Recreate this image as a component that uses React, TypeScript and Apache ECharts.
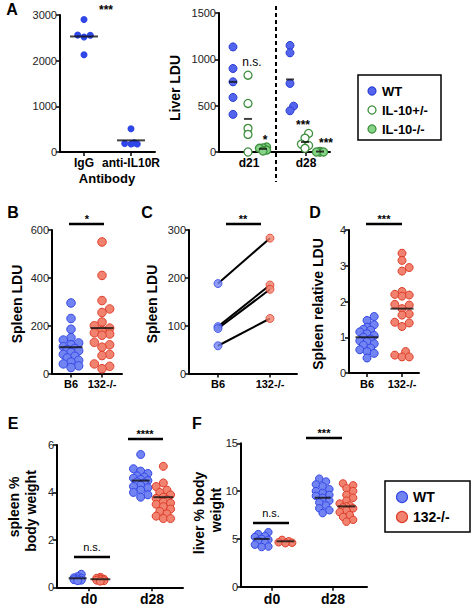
import React, { useEffect, useRef } from 'react';
import * as echarts from 'echarts';

// ---------- data ----------
const A1_CATS = ['IgG', 'anti-IL10R'];
const A1_IGG = [2900, 2555, 2520, 2560, 2130];
const A1_ANTI = [510, 200, 175, 175, 185];
const A1_MEANS = [2530, 255];

const A2_DAYS = ['d21', 'd28'];
const A2_WT_D21 = [1134, 901, 757, 589, 406];
const A2_WT_D28 = [1150, 1070, 740, 495, 445];
const A2_HET_D21 = [829, 524, 255, 190, 0];
const A2_HET_D28 = [200, 150, 85, 70, 40];
const A2_KO_D21 = [55, 45, 40, 20, 10];
const A2_KO_D28 = [6, 3, 0, 0, 0];
const A2_WT_MEANS = [757, 783];
const A2_HET_MEANS = [357, 108];
const A2_KO_MEANS = [34, 5];

const B_CATS = ['B6', '132-/-'];
const B_B6 = [295, 230, 185, 150, 140, 128, 120, 112, 105, 100, 95, 88, 80, 72, 65, 55, 48, 40, 32, 25];
const B_KO = [550, 410, 305, 270, 255, 215, 200, 190, 180, 170, 165, 160, 130, 120, 110, 80, 75, 40, 30, 20];
const B_MEANS = [110, 190];

const C_B6 = [188, 98, 94, 58];
const C_KO = [283, 185, 176, 115];

const D_B6 = [1.58, 1.47, 1.35, 1.28, 1.22, 1.2, 1.15, 1.1, 1.05, 1.0, 0.95, 0.9, 0.88, 0.82, 0.78, 0.7, 0.65, 0.6, 0.55, 0.42];
const D_KO = [3.35, 3.15, 2.95, 2.85, 2.28, 2.2, 2.18, 2.15, 1.92, 1.9, 1.8, 1.65, 1.62, 1.42, 1.4, 1.3, 0.6, 0.5, 0.45, 0.45];
const D_MEANS = [1.0, 1.8];

const EF_DAYS = ['d0', 'd28'];
const E_WT_D0 = [0.55, 0.45, 0.4, 0.38, 0.35, 0.32, 0.3, 0.28];
const E_KO_D0 = [0.42, 0.38, 0.36, 0.34, 0.32, 0.3, 0.28, 0.26];
const E_WT_D28 = [5.6, 5.0, 4.9, 4.8, 4.7, 4.65, 4.6, 4.55, 4.5, 4.45, 4.4, 4.3, 4.25, 4.2, 4.1, 4.0, 3.9, 3.8];
const E_KO_D28 = [5.1, 4.4, 4.25, 4.1, 4.0, 3.9, 3.8, 3.75, 3.7, 3.6, 3.55, 3.5, 3.4, 3.3, 3.2, 3.1, 3.0, 2.9, 2.9];
const E_WT_MEANS = [0.38, 4.5];
const E_KO_MEANS = [0.34, 3.8];

const F_WT_D0 = [5.7, 5.5, 5.3, 5.2, 5.0, 4.9, 4.8, 4.6, 4.4, 4.2, 4.15];
const F_KO_D0 = [4.9, 4.75, 4.65, 4.6, 4.55];
const F_WT_D28 = [11.3, 11.0, 10.7, 10.5, 10.2, 10.0, 9.8, 9.6, 9.5, 9.3, 9.0, 8.8, 8.5, 8.2, 8.0, 7.7];
const F_KO_D28 = [10.8, 10.6, 10.3, 10.0, 9.6, 9.3, 9.0, 8.7, 8.5, 8.4, 8.3, 8.2, 8.0, 7.8, 7.5, 7.3, 7.0, 6.8];
const F_WT_MEANS = [5.0, 9.3];
const F_KO_MEANS = [4.75, 8.4];

// ---------- styling ----------
const FONT = 'Liberation Sans, Arial, Helvetica, sans-serif';
const BLUE_SOLID = '#2f47e8';
const WT_FILL = '#5365ec';
const WT_STROKE = '#2b3dd6';
const BLUE_FILL = '#7283f2';
const BLUE_STROKE = '#3549e6';
const RED_FILL = '#f1826f';
const RED_STROKE = '#de3f2b';
const GREEN_STROKE = '#3f8f3f';
const GREEN_FILL = '#86d486';

type G = { left: number; top: number; width: number; height: number; c0: number; c1: number; ymax: number; yint: number; cats: string[]; catFont: number };

const GRIDS: G[] = [
  { left: 60, top: 15, width: 95, height: 137, c0: 84, c1: 131, ymax: 3000, yint: 1000, cats: A1_CATS, catFont: 12 },
  { left: 219, top: 13, width: 111, height: 139, c0: 249, c1: 306, ymax: 1500, yint: 500, cats: A2_DAYS, catFont: 12 },
  { left: 52, top: 230, width: 70, height: 143.5, c0: 71, c1: 102, ymax: 600, yint: 200, cats: B_CATS, catFont: 11 },
  { left: 189, top: 230, width: 108, height: 143.5, c0: 218, c1: 270, ymax: 300, yint: 100, cats: B_CATS, catFont: 11 },
  { left: 349, top: 230, width: 70, height: 143, c0: 367, c1: 402, ymax: 4, yint: 1, cats: B_CATS, catFont: 11 },
  { left: 57, top: 445, width: 126, height: 142.3, c0: 89, c1: 152, ymax: 6, yint: 2, cats: EF_DAYS, catFont: 14 },
  { left: 241, top: 443.3, width: 126, height: 143.4, c0: 272, c1: 333, ymax: 15, yint: 5, cats: EF_DAYS, catFont: 14 },
];

// compact beeswarm layout with a maximum half-width: returns pixel offsets
function swarm(values: number[], pxY: number, diam: number, step: number, maxHalf: number): number[] {
  const order = values.map((_, i) => i).sort((a, b) => values[a] - values[b]);
  const placed: { x: number; y: number }[] = [];
  const out = new Array(values.length).fill(0);
  const cands: number[] = [0];
  for (let m = 1; m * step <= maxHalf + 1e-6; m++) cands.push(m * step, -m * step);
  for (const i of order) {
    const y = values[i] * pxY;
    let best = 0;
    let bestD = -1;
    for (const off of cands) {
      const d = placed.length ? Math.min(...placed.map((p) => Math.hypot(p.x - off, p.y - y))) : Infinity;
      if (d >= diam) { best = off; bestD = d; break; }
      if (d > bestD + 0.5) { bestD = d; best = off; }
    }
    out[i] = best;
    placed.push({ x: best, y });
  }
  return out;
}

function dots(gi: number, center: number, values: number[], size: number, fill: string, stroke: string, maxHalf: number, bw = 1, z = 3) {
  const g = GRIDS[gi];
  const pxY = g.height / g.ymax;
  const offs = swarm(values, pxY, size * 0.75, size * 0.45, maxHalf);
  const unit = g.c1 - g.c0;
  return {
    type: 'scatter', xAxisIndex: gi, yAxisIndex: gi, symbol: 'circle', symbolSize: size, clip: false, silent: true, z,
    itemStyle: { color: fill, borderColor: stroke, borderWidth: bw, opacity: 1 },
    data: values.map((v, i) => [center + offs[i] / unit, v]),
  };
}

function means(gi: number, centers: number[], vals: number[], w: number) {
  return {
    type: 'scatter', xAxisIndex: gi, yAxisIndex: gi, symbol: 'rect', symbolSize: [w, 2], clip: false, silent: true, z: 5,
    itemStyle: { color: '#111' },
    data: vals.map((v, i) => [centers[i], v]),
  };
}

function buildOption() {
  const grid = GRIDS.map((g) => ({ left: g.left, top: g.top, width: g.width, height: g.height, containLabel: false, outerBoundsMode: 'none' }));
  const xAxis = GRIDS.map((g, i) => {
    const u = g.c1 - g.c0;
    return {
      type: 'value', gridIndex: i, min: -(g.c0 - g.left) / u, max: (g.left + g.width - g.c0) / u,
      axisLine: { show: true, onZero: false, lineStyle: { color: '#000', width: 2 } },
      axisTick: { show: true, customValues: [0, 1], length: 4, lineStyle: { color: '#000', width: 1.5 } },
      axisLabel: { show: true, customValues: [0, 1], formatter: (v: number) => g.cats[Math.round(v)] ?? '', fontSize: g.catFont, fontWeight: 'bold', color: '#000', fontFamily: FONT, margin: 5 },
      splitLine: { show: false },
    };
  });
  const yAxis = GRIDS.map((g, i) => ({
    type: 'value', gridIndex: i, min: 0, max: g.ymax, interval: g.yint,
    axisLine: { show: true, onZero: false, lineStyle: { color: '#000', width: 2 } },
    axisTick: { show: true, length: 4, lineStyle: { color: '#000', width: 1.5 } },
    axisLabel: { fontSize: 11, color: '#222', fontFamily: FONT, margin: 3, formatter: (v: number) => String(v) },
    splitLine: { show: false },
  }));

  const u2 = GRIDS[1].c1 - GRIDS[1].c0;
  const oWT = -16 / u2, oHET = -1 / u2, oKO = 14 / u2;
  const oE = 0.18;
  const oF1 = -0.17, oF2 = 0.22;

  const series: any[] = [
    // A left
    dots(0, 0, A1_IGG, 7, BLUE_SOLID, BLUE_SOLID, 10, 0),
    dots(0, 1, A1_ANTI, 7, BLUE_SOLID, BLUE_SOLID, 12, 0),
    means(0, [0, 1], A1_MEANS, 28),
    // A right
    dots(1, 0 + oWT, A2_WT_D21, 8, WT_FILL, WT_STROKE, 5),
    dots(1, 1 + oWT, A2_WT_D28, 8, WT_FILL, WT_STROKE, 5),
    dots(1, 0 + oHET, A2_HET_D21, 8, '#ffffff', GREEN_STROKE, 6, 1.3),
    dots(1, 1 + oHET, A2_HET_D28, 8, '#ffffff', GREEN_STROKE, 7, 1.3),
    dots(1, 0 + oKO, A2_KO_D21, 8, GREEN_FILL, GREEN_STROKE, 7, 1.3),
    dots(1, 1 + oKO, A2_KO_D28, 8, GREEN_FILL, GREEN_STROKE, 7, 1.3),
    means(1, [0 + oWT, 1 + oWT], A2_WT_MEANS, 8),
    means(1, [0 + oHET, 1 + oHET], A2_HET_MEANS, 8),
    means(1, [0 + oKO, 1 + oKO], A2_KO_MEANS, 8),
    // B
    dots(2, 0, B_B6, 8.5, BLUE_FILL, BLUE_STROKE, 10),
    dots(2, 1, B_KO, 8.5, RED_FILL, RED_STROKE, 11),
    means(2, [0, 1], B_MEANS, 23),
    // C lines
    ...C_B6.map((v, i) => ({
      type: 'line', xAxisIndex: 3, yAxisIndex: 3, symbol: 'none', silent: true, z: 2,
      lineStyle: { color: '#000', width: 2 }, data: [[0, v], [1, C_KO[i]]],
    })),
    {
      type: 'scatter', xAxisIndex: 3, yAxisIndex: 3, symbolSize: 8, silent: true, clip: false, z: 3,
      itemStyle: { color: BLUE_FILL, borderColor: BLUE_STROKE, borderWidth: 1 }, data: C_B6.map((v) => [0, v]),
    },
    {
      type: 'scatter', xAxisIndex: 3, yAxisIndex: 3, symbolSize: 8, silent: true, clip: false, z: 3,
      itemStyle: { color: RED_FILL, borderColor: RED_STROKE, borderWidth: 1 }, data: C_KO.map((v) => [1, v]),
    },
    // D
    dots(4, 0, D_B6, 8, BLUE_FILL, BLUE_STROKE, 10),
    dots(4, 1, D_KO, 8, RED_FILL, RED_STROKE, 10),
    means(4, [0, 1], D_MEANS, 23),
    // E
    dots(5, 0 - oE, E_WT_D0, 8, BLUE_FILL, BLUE_STROKE, 6),
    dots(5, 0 + oE, E_KO_D0, 8, RED_FILL, RED_STROKE, 7),
    dots(5, 1 - oE, E_WT_D28, 8, BLUE_FILL, BLUE_STROKE, 8),
    dots(5, 1 + oE, E_KO_D28, 8, RED_FILL, RED_STROKE, 8),
    means(5, [0 - oE, 1 - oE], E_WT_MEANS, 18),
    means(5, [0 + oE, 1 + oE], E_KO_MEANS, 20),
    // F
    dots(6, 0 + oF1, F_WT_D0, 7.5, BLUE_FILL, BLUE_STROKE, 8),
    dots(6, 0 + oF2, F_KO_D0, 7.5, RED_FILL, RED_STROKE, 7),
    dots(6, 1 + oF1, F_WT_D28, 7.5, BLUE_FILL, BLUE_STROKE, 8),
    dots(6, 1 + oF2, F_KO_D28, 7.5, RED_FILL, RED_STROKE, 8),
    means(6, [0 + oF1, 1 + oF1], F_WT_MEANS, 16),
    means(6, [0 + oF2, 1 + oF2], F_KO_MEANS, 18),
  ];

  const txt = (x: number, y: number, text: string, size: number, bold = true, extra: any = {}) => ({
    type: 'text', x, y, ...extra,
    style: { text, fill: '#000', font: `${bold ? 'bold ' : ''}${size}px ${FONT}`, align: 'center', verticalAlign: 'middle' },
  });
  const vtxt = (x: number, y: number, text: string, size: number) => ({
    type: 'text', x, y, rotation: Math.PI / 2,
    style: { text, fill: '#000', font: `bold ${size}px ${FONT}`, align: 'center', verticalAlign: 'middle' },
  });
  const bar = (x1: number, x2: number, y: number) => ({
    type: 'line', shape: { x1, y1: y, x2, y2: y }, style: { stroke: '#000', lineWidth: 2.5 },
  });
  const circ = (cx: number, cy: number, r: number, fill: string, stroke: string, lw = 1.2) => ({
    type: 'circle', shape: { cx, cy, r }, style: { fill, stroke, lineWidth: lw },
  });
  const ltxt = (x: number, y: number, text: string, size: number) => ({
    type: 'text', x, y, style: { text, fill: '#000', font: `bold ${size}px ${FONT}`, align: 'left', verticalAlign: 'middle' },
  });

  const graphic: any[] = [
    // panel letters
    txt(12, 9, 'A', 16), txt(13, 212, 'B', 16), txt(147, 212, 'C', 16), txt(315, 212, 'D', 16),
    txt(13, 423, 'E', 16), txt(197, 423, 'F', 16),
    // A
    txt(107, 178, 'Antibody', 13),
    txt(106, 10, '***', 12),
    vtxt(175, 88, 'Liver LDU', 14),
    { type: 'line', shape: { x1: 276, y1: 6, x2: 276, y2: 182 }, style: { stroke: '#000', lineWidth: 2, lineDash: [4, 3] } },
    txt(252, 62, 'n.s.', 12, false),
    txt(265, 140, '*', 12),
    txt(303, 125, '***', 12),
    txt(326, 143, '***', 12),
    // legend A
    { type: 'rect', shape: { x: 358, y: 75, width: 83, height: 65 }, style: { fill: '#fff', stroke: '#000', lineWidth: 1.5 } },
    circ(372, 91, 4, WT_FILL, WT_STROKE), ltxt(382, 91, 'WT', 13),
    circ(372, 110, 4, '#fff', GREEN_STROKE, 1.3), ltxt(382, 110, 'IL-10+/-', 13),
    circ(372, 129, 4, GREEN_FILL, GREEN_STROKE, 1.3), ltxt(382, 129, 'IL-10-/-', 13),
    // B, C, D
    vtxt(17, 304, 'Spleen LDU', 14), vtxt(152, 304, 'Spleen LDU', 14), vtxt(318, 304, 'Spleen relative LDU', 14),
    bar(69, 104, 224), txt(87, 219, '*', 11),
    bar(226, 261, 224), txt(243, 219, '**', 11),
    bar(366, 402, 224), txt(384, 219, '***', 11),
    // E
    vtxt(14, 507, 'spleen %', 14), vtxt(31, 511, 'body weight', 14),
    bar(74, 110, 557), txt(92, 547, 'n.s.', 11, false),
    bar(128, 163, 439), txt(145, 434, '****', 11),
    // F
    vtxt(199, 513, 'liver % body', 14), vtxt(216, 510, 'weight', 14),
    bar(253, 289, 523), txt(271, 513, 'n.s.', 11, false),
    bar(306, 342, 438), txt(324, 433, '***', 11),
    // legend F
    { type: 'rect', shape: { x: 385, y: 481, width: 85, height: 51 }, style: { fill: '#fff', stroke: '#000', lineWidth: 1.5 } },
    circ(402, 497, 5.5, BLUE_FILL, BLUE_STROKE), ltxt(413, 497, 'WT', 14),
    circ(402, 517, 5.5, RED_FILL, RED_STROKE), ltxt(413, 517, '132-/-', 14),
  ];

  return {
    animation: false,
    backgroundColor: '#ffffff',
    textStyle: { fontFamily: FONT },
    grid, xAxis, yAxis, series, graphic,
  };
}

export default function App() {
  const ref = useRef<HTMLDivElement>(null);
  useEffect(() => {
    const chart = echarts.init(ref.current!, null, { renderer: 'svg', width: 474, height: 612 });
    chart.setOption(buildOption() as any);
    return () => chart.dispose();
  }, []);
  return <div ref={ref} style={{ position: 'fixed', left: 0, top: 0, width: 474, height: 612, background: '#fff' }} />;
}
